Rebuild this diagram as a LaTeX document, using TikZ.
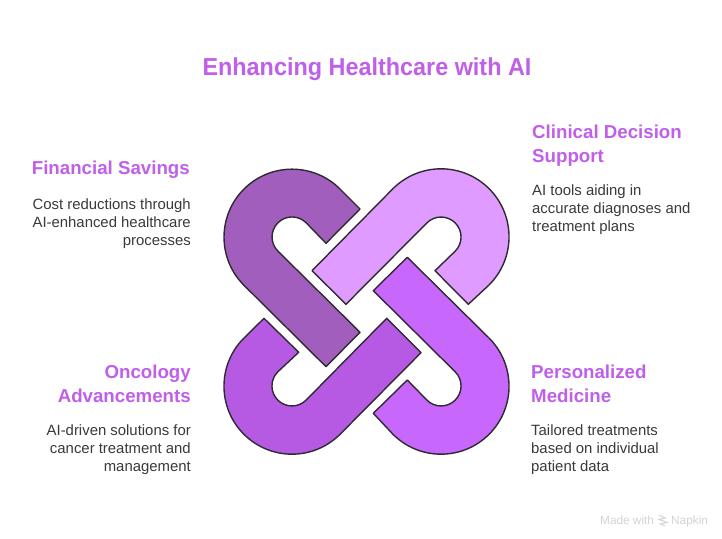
\documentclass[tikz,border=0pt]{standalone}
\usepackage{fontspec}
\setmainfont{Liberation Sans}
\newfontfamily\ttlfont[FakeStretch=0.955]{Liberation Sans}
\definecolor{ttl}{HTML}{BF5FEA}
\definecolor{body}{HTML}{3A3A3A}
\definecolor{edge}{HTML}{2E2A30}
\definecolor{fa}{HTML}{A25EBD}
\definecolor{fb}{HTML}{DF9BFF}
\definecolor{fc}{HTML}{B65AE3}
\definecolor{fd}{HTML}{C767FB}
\tikzset{
 link/.style={draw=edge,line width=1.4pt,line join=round},
 titletext/.style={text=ttl,inner sep=0pt,font=\ttlfont\fontsize{24.5}{29}\selectfont\bfseries},
 headr/.style={text=ttl,inner sep=0pt,anchor=north east,align=right,font=\fontsize{18.7}{24}\selectfont\bfseries},
 headl/.style={text=ttl,inner sep=0pt,anchor=north west,align=left,font=\fontsize{18.7}{24}\selectfont\bfseries},
 bodyr/.style={text=body,inner sep=0pt,anchor=north east,align=right,font=\fontsize{14.9}{18}\selectfont},
 bodyl/.style={text=body,inner sep=0pt,anchor=north west,align=left,font=\fontsize{14.9}{18}\selectfont},
 wm/.style={text=black!17,inner sep=0pt,font=\fontsize{11.8}{13}\selectfont},
}
\begin{document}
\begin{tikzpicture}[x=1pt,y=1pt]
\useasboundingbox (0,0) rectangle (722,538);
\fill[white] (0,0) rectangle (722,538);
\node[titletext] (title) at (367,469) {Enhancing Healthcare with AI};
% links
\draw[link,fill=fa] (360,329) -- (340.1,348.9) arc[start angle=45,end angle=225,radius=68] -- (326,171.3) -- (360,205.7) -- (277.9,286.9) arc[start angle=225,end angle=45,radius=20] -- (326,294.7) -- cycle;
\draw[link,fill=fb] (468.3,233.7) -- (489.1,253.1) arc[start angle=-45,end angle=135,radius=68] -- (312,267.3) -- (346,233.7) -- (426.9,315.1) arc[start angle=135,end angle=-45,radius=20] -- (435,267.3) -- cycle;
\draw[link,fill=fc] (264,219.7) -- (243.9,199.9) arc[start angle=135,end angle=315,radius=68] -- (421,185.3) -- (386.7,219.7) -- (306.1,137.9) arc[start angle=315,end angle=135,radius=20] -- (298.7,185.7) -- cycle;
\draw[link,fill=fd] (407.3,280.7) -- (489.1,199.9) arc[start angle=45,end angle=-135,radius=68] -- (373.3,124.7) -- (407.3,158) -- (426.9,137.9) arc[start angle=-135,end angle=45,radius=20] -- (373.3,247.3) -- cycle;
% texts
\node[headr] (h1) at (190,377) {Financial Savings};
\node[bodyr] (b1) at (191,339) {Cost reductions through\\AI-enhanced healthcare\\processes};
\node[headl] (h2) at (532,413) {Clinical Decision\\Support};
\node[bodyl] (b2) at (532,353) {AI tools aiding in\\accurate diagnoses and\\treatment plans};
\node[headr] (h3) at (191,173) {Oncology\\Advancements};
\node[bodyr] (b3) at (191,113) {AI-driven solutions for\\cancer treatment and\\management};
\node[headl] (h4) at (531,173) {Personalized\\Medicine};
\node[bodyl] (b4) at (531,113) {Tailored treatments\\based on individual\\patient data};
% watermark
\node[wm,anchor=base west] (wm1) at (600,14) {Made with};
\node[wm,anchor=base west] (wm2) at (671,14) {Napkin};
\draw[black!17,line width=1pt] (659,23) -- (665,20) -- (659,18.5) -- (667,15.5) -- (660,14) -- (665,12);
\end{tikzpicture}
\end{document}
